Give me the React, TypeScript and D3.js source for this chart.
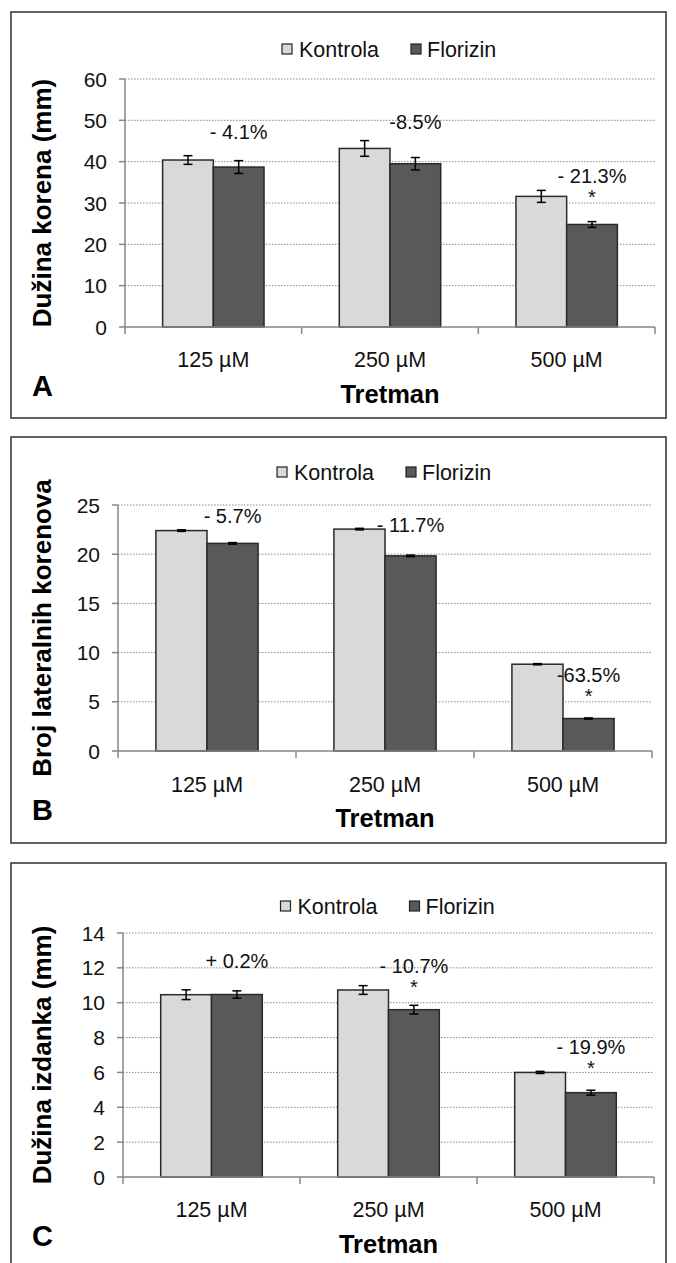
import React from "react";
import * as d3 from "d3";

// ---------- DATA ----------
const categories = ["125 µM", "250 µM", "500 µM"];
const seriesNames = ["Kontrola", "Florizin"];

// Panel A – Dužina korena (mm)
const rootKontrola = [40.4, 43.2, 31.6];
const rootKontrolaErr = [1.05, 1.9, 1.45];
const rootFlorizin = [38.7, 39.5, 24.8];
const rootFlorizinErr = [1.55, 1.5, 0.7];
const rootChangeLabels = ["- 4.1%", "-8.5%", "- 21.3%"];
const rootChangeY = [47.2, 49.6, 36.5];
const rootSignificant = [false, false, true];
const rootTicks = [0, 10, 20, 30, 40, 50, 60];

// Panel B – Broj lateralnih korenova
const lateralKontrola = [22.4, 22.55, 8.82];
const lateralKontrolaErr = [0.08, 0.08, 0.06];
const lateralFlorizin = [21.1, 19.83, 3.3];
const lateralFlorizinErr = [0.08, 0.08, 0.06];
const lateralChangeLabels = ["- 5.7%", "- 11.7%", "-63.5%"];
const lateralChangeY = [23.9, 23.0, 7.76];
const lateralSignificant = [false, false, true];
const lateralTicks = [0, 5, 10, 15, 20, 25];

// Panel C – Dužina izdanka (mm)
const shootKontrola = [10.46, 10.73, 6.0];
const shootKontrolaErr = [0.28, 0.25, 0.06];
const shootFlorizin = [10.47, 9.6, 4.84];
const shootFlorizinErr = [0.21, 0.25, 0.14];
const shootChangeLabels = ["+ 0.2%", "- 10.7%", "- 19.9%"];
const shootChangeY = [12.38, 12.13, 7.48];
const shootSignificant = [false, true, true];
const shootTicks = [0, 2, 4, 6, 8, 10, 12, 14];

const xTitle = "Tretman";

// ---------- STYLE ----------
const FONT = "'Liberation Sans', Arial, Helvetica, sans-serif";
const COLORS = ["#d9d9d9", "#595959"];

type PanelData = {
  letter: string;
  yTitle: string;
  kontrola: number[];
  kontrolaErr: number[];
  florizin: number[];
  florizinErr: number[];
  changeLabels: string[];
  changeY: number[];
  significant: boolean[];
  ticks: number[];
};

type Layout = {
  frameTop: number;
  frameBottom: number;
  plotLeft: number;
  plotRight: number;
  plotTop: number;
  plotBottom: number;
  legendY: number;
  catLabelY: number;
  xTitleY: number;
  letterY: number;
};

const panels: { data: PanelData; layout: Layout }[] = [
  {
    data: {
      letter: "A",
      yTitle: "Dužina korena (mm)",
      kontrola: rootKontrola,
      kontrolaErr: rootKontrolaErr,
      florizin: rootFlorizin,
      florizinErr: rootFlorizinErr,
      changeLabels: rootChangeLabels,
      changeY: rootChangeY,
      significant: rootSignificant,
      ticks: rootTicks,
    },
    layout: {
      frameTop: 12,
      frameBottom: 418,
      plotLeft: 125,
      plotRight: 655,
      plotTop: 79,
      plotBottom: 327,
      legendY: 49,
      catLabelY: 359,
      xTitleY: 394,
      letterY: 386,
    },
  },
  {
    data: {
      letter: "B",
      yTitle: "Broj lateralnih korenova",
      kontrola: lateralKontrola,
      kontrolaErr: lateralKontrolaErr,
      florizin: lateralFlorizin,
      florizinErr: lateralFlorizinErr,
      changeLabels: lateralChangeLabels,
      changeY: lateralChangeY,
      significant: lateralSignificant,
      ticks: lateralTicks,
    },
    layout: {
      frameTop: 437,
      frameBottom: 843,
      plotLeft: 118,
      plotRight: 652,
      plotTop: 505,
      plotBottom: 751,
      legendY: 472,
      catLabelY: 784,
      xTitleY: 818,
      letterY: 810,
    },
  },
  {
    data: {
      letter: "C",
      yTitle: "Dužina izdanka (mm)",
      kontrola: shootKontrola,
      kontrolaErr: shootKontrolaErr,
      florizin: shootFlorizin,
      florizinErr: shootFlorizinErr,
      changeLabels: shootChangeLabels,
      changeY: shootChangeY,
      significant: shootSignificant,
      ticks: shootTicks,
    },
    layout: {
      frameTop: 863,
      frameBottom: 1280,
      plotLeft: 123,
      plotRight: 654,
      plotTop: 933,
      plotBottom: 1177,
      legendY: 906,
      catLabelY: 1209,
      xTitleY: 1244,
      letterY: 1236,
    },
  },
];

function Panel({ data, layout }: { data: PanelData; layout: Layout }) {
  const L = layout;
  const x = d3
    .scaleBand<string>()
    .domain(categories)
    .range([L.plotLeft, L.plotRight])
    .paddingInner(0.426)
    .paddingOuter(0.213);
  const step = (L.plotRight - L.plotLeft) / categories.length;
  const inner = d3
    .scaleBand<string>()
    .domain(seriesNames)
    .range([0, x.bandwidth()]);
  const yMax = data.ticks[data.ticks.length - 1];
  const y = d3
    .scaleLinear()
    .domain([0, yMax])
    .range([L.plotBottom, L.plotTop]);

  const values = [data.kontrola, data.florizin];
  const errs = [data.kontrolaErr, data.florizinErr];
  const cx = (L.plotLeft + L.plotRight) / 2;
  const cy = (L.plotTop + L.plotBottom) / 2;
  const boundaries = d3.range(categories.length + 1).map((i) => L.plotLeft + i * step);

  return (
    <g>
      {/* frame */}
      <rect
        x={11}
        y={L.frameTop}
        width={655}
        height={L.frameBottom - L.frameTop}
        fill="white"
        stroke="#3a3a3a"
        strokeWidth={1.6}
      />
      {/* legend */}
      <g fontFamily={FONT} fontSize={21.5} fill="#111">
        <rect x={cx - 108} y={L.legendY - 5} width={10} height={10} fill={COLORS[0]} stroke="#222" strokeWidth={1.2} />
        <text x={cx - 91} y={L.legendY} dy="0.36em">{seriesNames[0]}</text>
        <rect x={cx + 21} y={L.legendY - 5} width={10} height={10} fill={COLORS[1]} stroke="#222" strokeWidth={1.2} />
        <text x={cx + 37} y={L.legendY} dy="0.36em">{seriesNames[1]}</text>
      </g>
      {/* gridlines */}
      {data.ticks
        .filter((t) => t > 0)
        .map((t) => (
          <line
            key={"g" + t}
            x1={L.plotLeft}
            x2={L.plotRight}
            y1={y(t)}
            y2={y(t)}
            stroke="#8a8a8a"
            strokeWidth={1}
            strokeDasharray="1.5,1.5"
          />
        ))}
      {/* bars */}
      {categories.map((c, i) => (
        <g key={c}>
          {seriesNames.map((s, j) => (
            <rect
              key={s}
              x={(x(c) as number) + (inner(s) as number)}
              y={y(values[j][i])}
              width={inner.bandwidth()}
              height={y(0) - y(values[j][i])}
              fill={COLORS[j]}
              stroke="#2a2a2a"
              strokeWidth={1.5}
            />
          ))}
        </g>
      ))}
      {/* error bars */}
      {categories.map((c, i) =>
        seriesNames.map((s, j) => {
          const bx = (x(c) as number) + (inner(s) as number) + inner.bandwidth() / 2;
          const v = values[j][i];
          const e = errs[j][i];
          return (
            <g key={c + s + "e"} stroke="#000" strokeWidth={1.5}>
              <line x1={bx} x2={bx} y1={y(v - e)} y2={y(v + e)} />
              <line x1={bx - 4.5} x2={bx + 4.5} y1={y(v - e)} y2={y(v - e)} />
              <line x1={bx - 4.5} x2={bx + 4.5} y1={y(v + e)} y2={y(v + e)} />
            </g>
          );
        })
      )}
      {/* axes */}
      <line x1={L.plotLeft} x2={L.plotLeft} y1={L.plotTop} y2={L.plotBottom} stroke="#868686" strokeWidth={1.5} />
      {data.ticks.map((t) => (
        <g key={"t" + t}>
          <line x1={L.plotLeft - 6} x2={L.plotLeft} y1={y(t)} y2={y(t)} stroke="#868686" strokeWidth={1.5} />
          <text
            x={L.plotLeft - 18}
            y={y(t)}
            dy="0.36em"
            textAnchor="end"
            fontFamily={FONT}
            fontSize={21}
            fill="#111"
          >
            {t}
          </text>
        </g>
      ))}
      <line x1={L.plotLeft} x2={L.plotRight} y1={L.plotBottom} y2={L.plotBottom} stroke="#868686" strokeWidth={1.5} />
      {boundaries.map((bx, i) => (
        <line key={"xb" + i} x1={bx} x2={bx} y1={L.plotBottom} y2={L.plotBottom + 7} stroke="#868686" strokeWidth={1.5} />
      ))}
      {categories.map((c) => (
        <text
          key={"cl" + c}
          x={(x(c) as number) + x.bandwidth() / 2}
          y={L.catLabelY}
          dy="0.36em"
          textAnchor="middle"
          fontFamily={FONT}
          fontSize={21.5}
          fill="#111"
        >
          {c}
        </text>
      ))}
      {/* change annotations */}
      {categories.map((c, i) => {
        const ax = (x(c) as number) + (inner(seriesNames[1]) as number) + inner.bandwidth() / 2;
        const ay = y(data.changeY[i]);
        return (
          <g key={"an" + c} fontFamily={FONT} fill="#111" textAnchor="middle">
            <text x={ax} y={ay} dy="0.36em" fontSize={20}>
              {data.changeLabels[i]}
            </text>
            {data.significant[i] && (
              <text x={ax} y={ay + 17} dy="0.55em" fontSize={20}>
                *
              </text>
            )}
          </g>
        );
      })}
      {/* titles */}
      <text
        x={cx}
        y={L.xTitleY}
        dy="0.36em"
        textAnchor="middle"
        fontFamily={FONT}
        fontWeight="bold"
        fontSize={25.5}
        fill="#000"
      >
        {xTitle}
      </text>
      <text
        transform={`translate(51, ${cy}) rotate(-90)`}
        textAnchor="middle"
        fontFamily={FONT}
        fontWeight="bold"
        fontSize={26}
        fill="#000"
      >
        {data.yTitle}
      </text>
      <text
        x={32}
        y={L.letterY}
        dy="0.36em"
        fontFamily={FONT}
        fontWeight="bold"
        fontSize={29}
        fill="#000"
      >
        {data.letter}
      </text>
    </g>
  );
}

export default function App() {
  return (
    <svg
      width={676}
      height={1263}
      viewBox="0 0 676 1263"
      style={{ position: "absolute", left: 0, top: 0, background: "white" }}
    >
      <rect x={0} y={0} width={676} height={1263} fill="white" />
      {panels.map((p, i) => (
        <Panel key={i} data={p.data} layout={p.layout} />
      ))}
    </svg>
  );
}
